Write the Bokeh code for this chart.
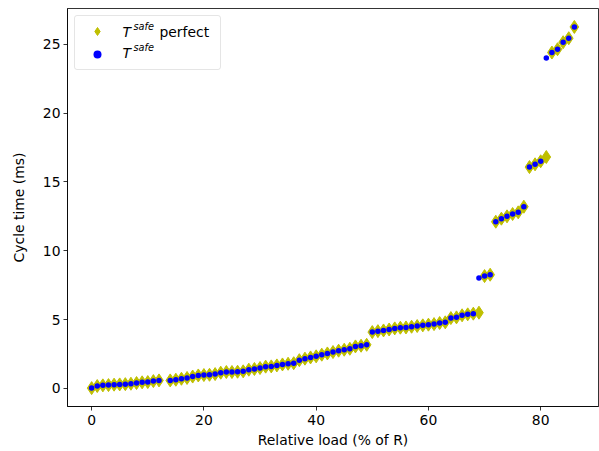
from bokeh.plotting import figure
from bokeh.models import Range1d, Legend, LegendItem, Label, FixedTicker
from bokeh.embed import file_html
from bokeh.resources import INLINE

# Relative load (% of R)
load = [0, 1, 2, 3, 4, 5, 6, 7, 8, 9, 10, 11, 12,
        14, 15, 16, 17, 18, 19, 20, 21, 22, 23, 24, 25, 26, 27, 28, 29,
        30, 31, 32, 33, 34, 35, 36, 37, 38, 39, 40, 41, 42, 43, 44, 45,
        46, 47, 48, 49, 50, 51, 52, 53, 54, 55, 56, 57, 58, 59, 60, 61,
        62, 63, 64, 65, 66, 67, 68, 69, 70, 71, 72, 73, 74, 75, 76, 77,
        78, 79, 80, 81, 82, 83, 84, 85, 86]

# Cycle time (ms), T^safe perfect
cycle_perfect = [0.02, 0.17, 0.22, 0.24, 0.27, 0.29, 0.31, 0.34, 0.39, 0.44, 0.46, 0.53, 0.58,
                 0.58, 0.63, 0.70, 0.76, 0.86, 0.94, 0.97, 0.99, 1.04, 1.14, 1.19, 1.19, 1.21, 1.24, 1.36, 1.41,
                 1.48, 1.58, 1.60, 1.67, 1.74, 1.79, 1.83, 2.05, 2.16, 2.25, 2.33, 2.45, 2.54, 2.64, 2.74, 2.81,
                 2.88, 3.05, 3.10, 3.17, 4.09, 4.16, 4.21, 4.28, 4.36, 4.41, 4.43, 4.48, 4.53, 4.58, 4.63, 4.67,
                 4.75, 4.80, 5.11, 5.16, 5.31, 5.38, 5.43, 5.50, 8.16, 8.26, 12.11, 12.33, 12.50, 12.67, 12.79, 13.20,
                 16.08, 16.28, 16.50, 16.81, 24.40, 24.64, 25.15, 25.44, 26.26]

# Cycle time (ms), T^safe
cycle_safe = [0.02, 0.17, 0.22, 0.24, 0.27, 0.29, 0.31, 0.34, 0.39, 0.44, 0.46, 0.53, 0.58,
              0.58, 0.63, 0.70, 0.76, 0.86, 0.94, 0.97, 0.99, 1.04, 1.14, 1.19, 1.19, 1.21, 1.24, 1.36, 1.41,
              1.48, 1.58, 1.60, 1.67, 1.74, 1.79, 1.83, 2.05, 2.16, 2.25, 2.33, 2.45, 2.54, 2.64, 2.74, 2.81,
              2.88, 3.05, 3.10, 3.17, 4.09, 4.16, 4.21, 4.28, 4.36, 4.41, 4.43, 4.48, 4.53, 4.58, 4.63, 4.67,
              4.75, 4.80, 5.11, 5.16, 5.31, 5.38, 5.43, 8.02, 8.16, 8.26, 12.11, 12.33, 12.50, 12.67, 12.79, 13.20,
              16.08, 16.28, 16.50, 24.00, 24.40, 24.64, 25.15, 25.44, 26.26]

x_ticks = [0, 20, 40, 60, 80]
y_ticks = [0, 5, 10, 15, 20, 25]

FONT = "DejaVu Sans"
FS = "13.9px"

p = figure(width=599, height=451, output_backend="svg", toolbar_location=None,
           x_range=Range1d(-4.3, 90.3), y_range=Range1d(-1.315, 27.6),
           min_border_left=67, min_border_right=1, min_border_top=8, min_border_bottom=45)

r_perf = p.scatter(load, cycle_perfect, marker="diamond", size=13,
                   fill_color="#bfbf00", line_color="#bfbf00", line_width=1)
r_safe = p.scatter(load, cycle_safe, marker="circle", size=5.5,
                   fill_color="#0000ff", line_color=None)

p.xgrid.grid_line_color = None
p.ygrid.grid_line_color = None
p.outline_line_color = "black"
p.outline_line_width = 0.8
p.background_fill_color = "white"
p.border_fill_color = "white"

for ax in (p.xaxis[0], p.yaxis[0]):
    ax.axis_line_color = "black"
    ax.axis_line_width = 0.8
    ax.major_tick_line_color = "black"
    ax.major_tick_line_width = 0.8
    ax.major_tick_in = 0
    ax.major_tick_out = 4
    ax.minor_tick_line_color = None
    ax.major_label_text_font = FONT
    ax.major_label_text_font_size = FS
    ax.major_label_text_color = "black"
    ax.axis_label_text_font = FONT
    ax.axis_label_text_font_size = FS
    ax.axis_label_text_font_style = "normal"
    ax.axis_label_text_color = "black"

p.xaxis.ticker = FixedTicker(ticks=x_ticks)
p.yaxis.ticker = FixedTicker(ticks=y_ticks)
p.xaxis.axis_label = "Relative load (% of R)"
p.yaxis.axis_label = "Cycle time (ms)"
p.xaxis.major_label_standoff = 4
p.xaxis.axis_label_standoff = 4
p.yaxis.major_label_standoff = 3
p.yaxis.axis_label_standoff = 13

legend = Legend(items=[LegendItem(label="", renderers=[r_perf]),
                       LegendItem(label="", renderers=[r_safe])],
                location="top_left", margin=7, padding=5, spacing=3,
                glyph_width=34, glyph_height=20, label_height=20,
                label_width=96, label_standoff=5,
                label_text_font_size="8px",
                border_line_color="#cccccc", border_line_width=1,
                background_fill_color="white", background_fill_alpha=0.0)
if "border_radius" in legend.properties():
    legend.border_radius = 3
p.add_layout(legend)

# legend texts (T^safe with italic superscript)
def lab(x, y, text, size, style):
    p.add_layout(Label(x=x, y=y, x_units="screen", y_units="screen", text=text,
                       text_font=FONT, text_font_size=size, text_font_style=style,
                       text_baseline="middle", text_align="left", text_color="black",
                       level="overlay"))

lab(55, 375, "T", FS, "italic")
lab(66, 380, "safe", "9.7px", "italic")
lab(92, 375, "perfect", FS, "normal")
lab(55, 354, "T", FS, "italic")
lab(66, 359, "safe", "9.7px", "italic")

open("out.html", "w").write(file_html(p, INLINE))
